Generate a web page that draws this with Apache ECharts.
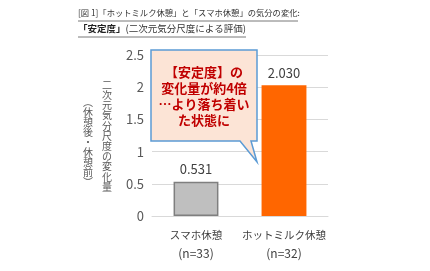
<!DOCTYPE html>
<html><head><meta charset="utf-8">
<script src="https://cdn.jsdelivr.net/npm/echarts@6/dist/echarts.min.js"></script>
<style>html,body{margin:0;padding:0;background:#fff}#c{width:430px;height:271px}</style>
</head><body><div id="c"></div>
<script>
var categories = ['スマホ休憩', 'ホットミルク休憩'];
var sampleSizes = ['(n=33)', '(n=32)'];
var values = [0.531, 2.030];
var barColors = ['#BFBFBF', '#FF6600'];
var yTicks = [0, 0.5, 1, 1.5, 2, 2.5];
var titleLine1 = '[図 1]「ホットミルク休憩」と「スマホ休憩」の気分の変化:';
var titleBold = '「安定度」';
var titleRest = '(二次元気分尺度による評価)';
var yName1 = '二次元気分尺度の変化量';
var yName2 = '︵休憩後・休憩前︶';
var calloutLines = ['【安定度】の', '変化量が約4倍', '…より落ち着い', 'た状態に'];

var font = '"Noto Sans CJK JP", "Noto Sans", sans-serif';
var chart = echarts.init(document.getElementById('c'), null, {renderer: 'canvas'});
function vert(s){ return s.split('').join('\n'); }
var option = {
  animation: false,
  textStyle: {fontFamily: font},
  grid: {left: 152, right: 102, top: 55, bottom: 55},
  xAxis: {
    type: 'category', data: categories,
    axisLine: {show: true, lineStyle: {color: '#D9D9D9', width: 1}},
    axisTick: {show: false},
    axisLabel: {interval: 0, margin: 10,
      formatter: function(v, i){ return '{a|' + v + '}\n{n|' + sampleSizes[i] + '}'; },
      rich: {
        a: {color: '#404040', fontSize: 10.5, lineHeight: 18, fontFamily: font},
        n: {color: '#404040', fontSize: 12, lineHeight: 18, fontFamily: font}
      }}
  },
  yAxis: {
    type: 'value', min: yTicks[0], max: yTicks[yTicks.length-1], interval: 0.5,
    axisLine: {show: false}, axisTick: {show: false},
    splitLine: {lineStyle: {color: '#D9D9D9', width: 1}},
    axisLabel: {color: '#595959', fontSize: 13, margin: 8, fontFamily: font}
  },
  series: [{
    type: 'bar', barWidth: '51%',
    data: values.map(function(v, i){
      return {value: v, itemStyle: {color: barColors[i], borderColor: i === 0 ? '#7F7F7F' : barColors[i], borderWidth: i === 0 ? 1.5 : 0}};
    }),
    label: {show: true, position: 'top', distance: 6, color: '#404040', fontSize: 13, fontFamily: font,
      formatter: function(p){ return p.value.toFixed(3); }}
  }],
  graphic: [
    {type: 'text', left: 78, top: 9, style: {text: titleLine1, fontSize: 8.3, fill: '#333', fontFamily: font}},
    {type: 'line', shape: {x1: 78, y1: 21, x2: 298, y2: 21}, style: {stroke: '#555', lineWidth: 0.8}},
    {type: 'text', left: 78, top: 24, style: {
      text: '{b|' + titleBold + '}{r|' + titleRest + '}',
      rich: {b: {fontSize: 9.5, fontWeight: 'bold', fill: '#222', fontFamily: font}, r: {fontSize: 9.5, fill: '#333', fontFamily: font}}
    }},
    {type: 'line', shape: {x1: 78, y1: 37, x2: 246, y2: 37}, style: {stroke: '#555', lineWidth: 0.8}},
    {type: 'text', x: 107, y: 80, style: {text: vert(yName1), fill: '#595959', fontSize: 10, lineHeight: 10.2, fontFamily: font, align: 'center'}},
    {type: 'text', x: 88, y: 97, style: {text: vert(yName2), fill: '#595959', fontSize: 10, lineHeight: 10, fontFamily: font, align: 'center'}},
    {type: 'polygon', shape: {points: [[151,50],[257,50],[257,141],[251,141],[257,162],[240,141],[151,141]]},
      style: {fill: '#FCE4D6', stroke: '#5B9BD5', lineWidth: 1.5}, z: 100},
    {type: 'text', x: 204, y: 64, z: 101, style: {text: calloutLines.join('\n'), fill: '#C00000', fontSize: 13, fontWeight: 'bold', lineHeight: 16, align: 'center', fontFamily: font}}
  ]
};
chart.setOption(option);
</script></body></html>
